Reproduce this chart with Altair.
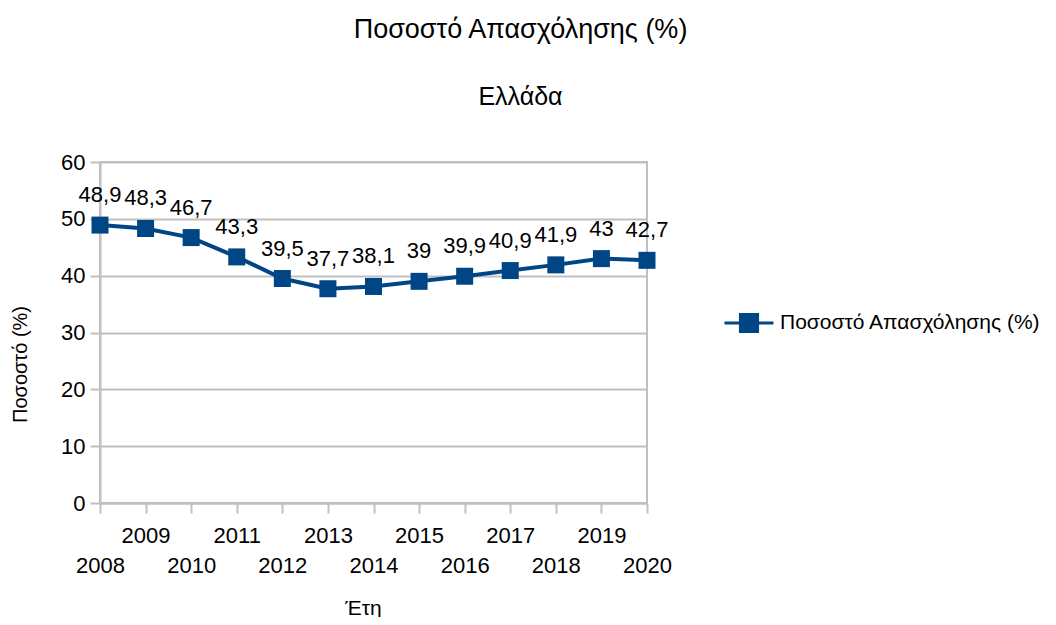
import altair as alt
import pandas as pd

years = [2008, 2009, 2010, 2011, 2012, 2013, 2014, 2015, 2016, 2017, 2018, 2019, 2020]
values = [48.9, 48.3, 46.7, 43.3, 39.5, 37.7, 38.1, 39.0, 39.9, 40.9, 41.9, 43.0, 42.7]
series_name = "Ποσοστό Απασχόλησης (%)"
y_ticks = [0, 10, 20, 30, 40, 50, 60]

df = pd.DataFrame({
    "year": years,
    "value": values,
    "label": [f"{v:g}".replace(".", ",") for v in values],
    "series": [series_name] * len(years),
})

FONT = "Liberation Sans"
BLUE = "#004586"
GRID = "#c0c0c0"

x_enc = alt.X(
    "year:Q",
    scale=alt.Scale(domain=[2008, 2020], nice=False, zero=False),
    axis=alt.Axis(
        title="Έτη",
        values=years,
        labelExpr="datum.value % 2 == 0 ? ['', '' + datum.value] : '' + datum.value",
        labelOverlap=False,
        labelFlush=False,
        labelBound=False,
        labelLineHeight=30,
        labelFontSize=22,
        labelPadding=12,
        tickSize=10,
        grid=False,
        titleX=263,
        titleY=105,
        titleBaseline="middle",
        titleFontSize=21,
    ),
)
y_enc = alt.Y(
    "value:Q",
    scale=alt.Scale(domain=[0, 60], nice=False),
    axis=alt.Axis(
        title="Ποσοστό (%)",
        values=y_ticks,
        labelFontSize=22,
        labelPadding=5,
        tickSize=10,
        titleX=-80,
        titleY=202,
        titleFontSize=20,
        titleAngle=270,
        titleBaseline="middle",
        titleAlign="center",
    ),
)

base = alt.Chart(df)

line = base.mark_line(color=BLUE, strokeWidth=4).encode(x=x_enc, y=y_enc)

points = base.mark_point(shape="square", size=289, filled=True, opacity=1).encode(
    x="year:Q",
    y="value:Q",
    color=alt.Color(
        "series:N",
        scale=alt.Scale(range=[BLUE]),
        legend=alt.Legend(
            title=None,
            orient="none",
            legendX=623,
            legendY=135,
            symbolType="M-1,0H1M-0.35,-0.35H0.35V0.35H-0.35Z",
            symbolSize=2400,
            symbolStrokeWidth=3,
            symbolStrokeColor=BLUE,
            symbolFillColor=BLUE,
            symbolOpacity=1,
            labelFontSize=21,
            labelOffset=5,
            labelFont=FONT,
            labelColor="#000000",
            labelLimit=400,
        ),
    ),
)

labels = base.mark_text(dy=-30, fontSize=22, font=FONT, color="#000000").encode(
    x="year:Q", y="value:Q", text="label:N"
)

chart = (
    alt.layer(line, points, labels)
    .properties(
        width=547,
        height=341,
        autosize=alt.AutoSizeParams(type="none"),
        padding={"left": 92, "top": 154, "right": 401, "bottom": 114},
        title=alt.TitleParams(
            text="Ποσοστό Απασχόλησης (%)",
            subtitle="Ελλάδα",
            anchor="middle",
            dx=147,
            offset=40,
            fontSize=27,
            subtitleFontSize=25,
            subtitlePadding=41,
            font=FONT,
            subtitleFont=FONT,
            fontWeight="normal",
            color="#000000",
            subtitleColor="#000000",
        ),
    )
    .configure_view(stroke=GRID, strokeWidth=2)
    .configure_axis(
        labelFont=FONT,
        titleFont=FONT,
        labelColor="#000000",
        titleColor="#000000",
        titleFontWeight="normal",
        domainColor=GRID,
        domainWidth=2,
        tickColor=GRID,
        tickWidth=2,
        gridColor=GRID,
        gridWidth=2,
        gridOpacity=1,
    )
)

chart.save("out.html", embed_options={"renderer": "svg", "actions": False})
